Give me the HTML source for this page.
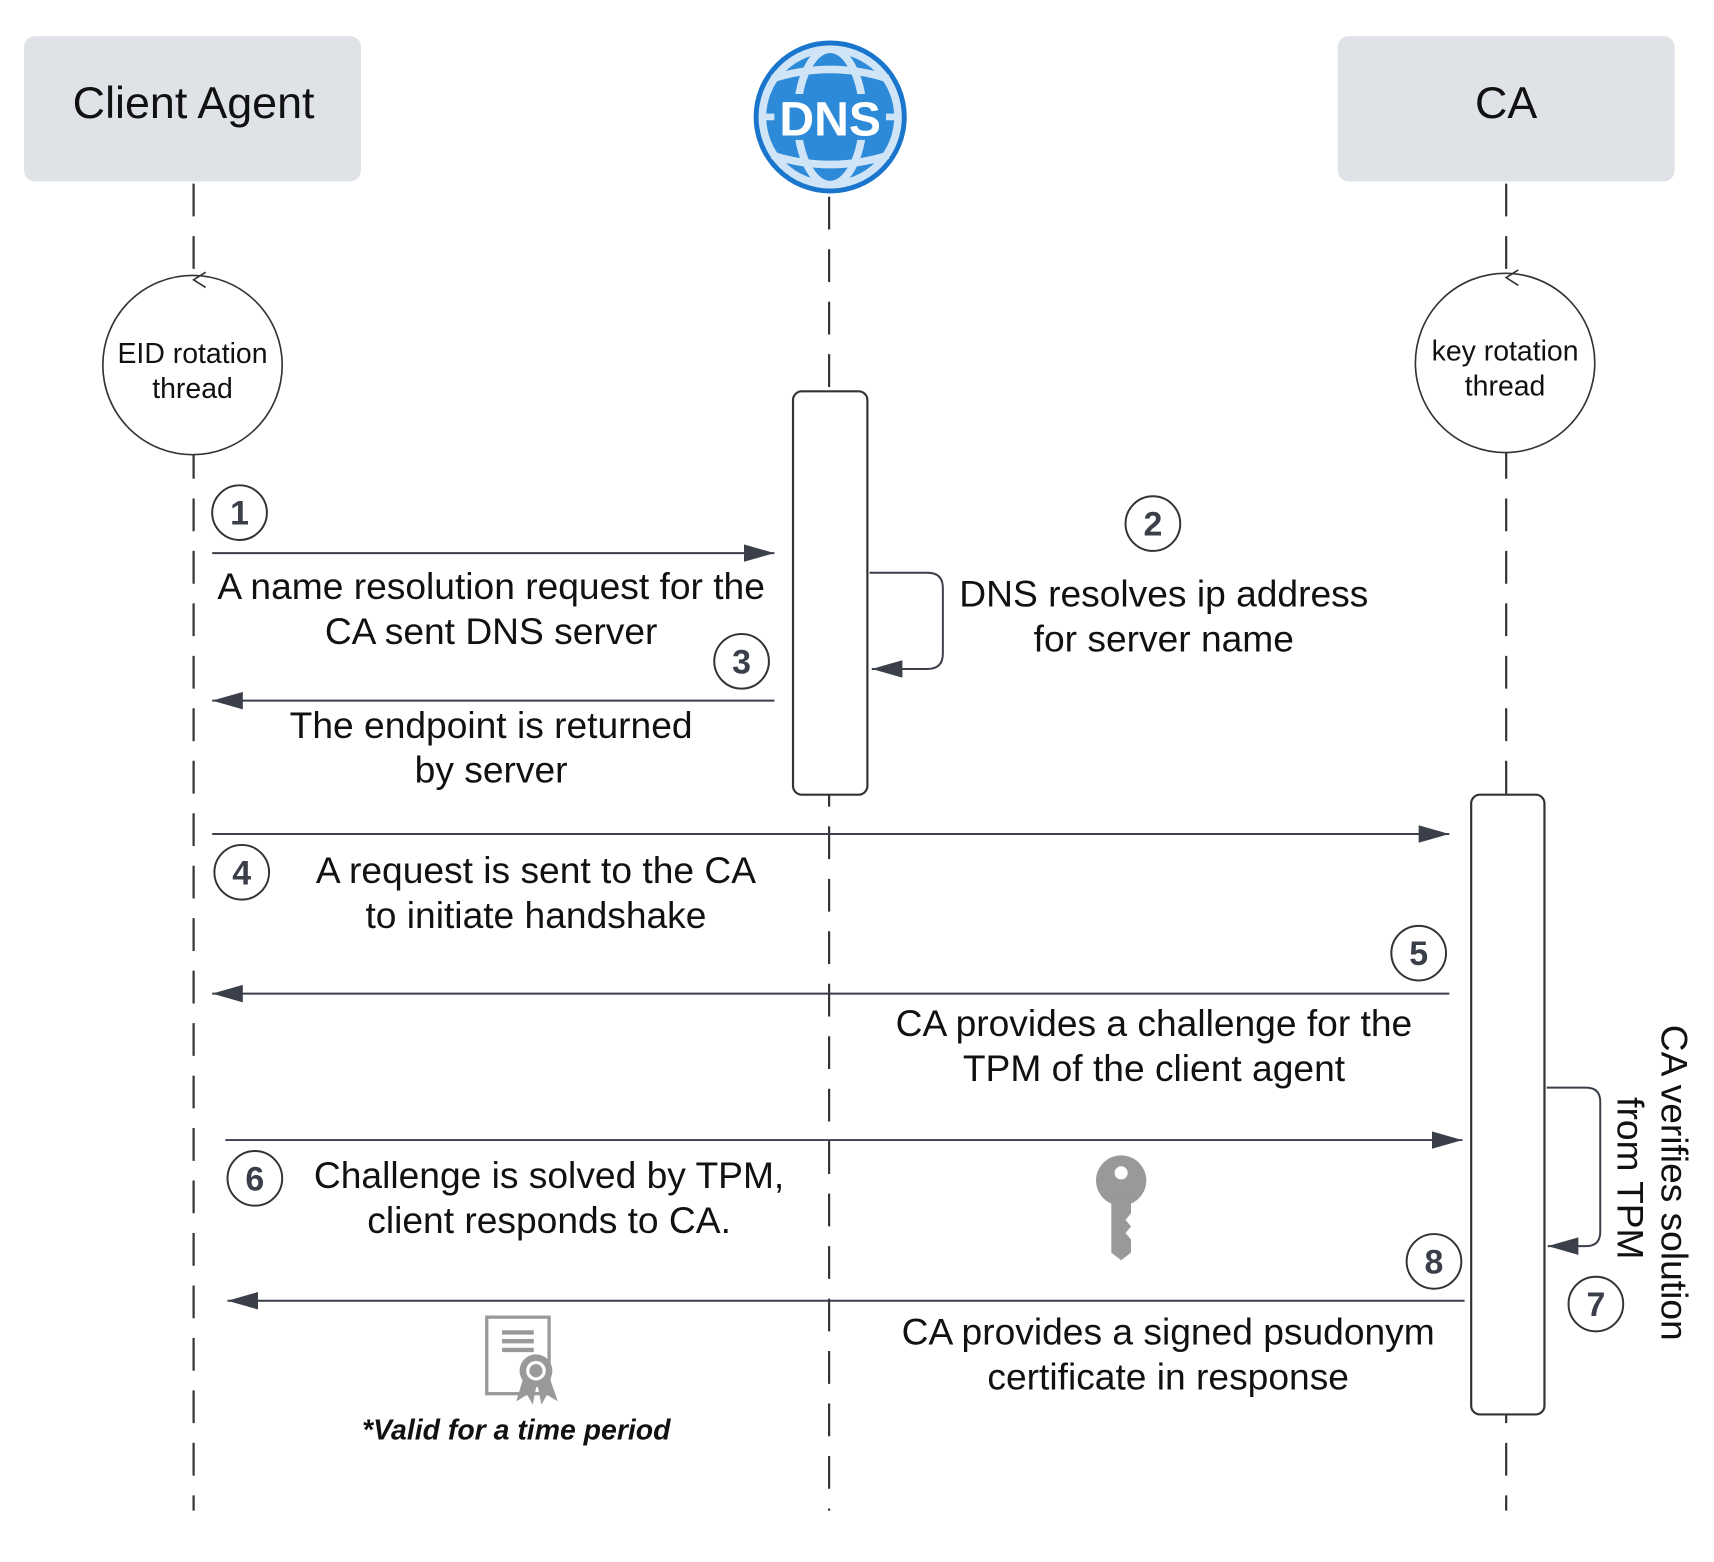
<!DOCTYPE html>
<html><head><meta charset="utf-8"><style>
html,body{margin:0;padding:0;background:#fff}
svg{display:block}
text{font-family:"Liberation Sans",sans-serif;fill:#111}
</style></head><body>
<svg width="1714" height="1562" viewBox="0 0 1567 1429" preserveAspectRatio="none" xmlns="http://www.w3.org/2000/svg">
<defs>
<marker id="ah" markerWidth="30" markerHeight="16" refX="28" refY="8" orient="auto" markerUnits="userSpaceOnUse">
<path d="M0,0 L28,8 L0,16 Z" fill="#3a3f4a"/></marker>
</defs>
<rect width="1567" height="1429" fill="#fff"/>
<g stroke="#333" stroke-width="2" stroke-dasharray="30,18" fill="none">
<line x1="177" y1="168" x2="177" y2="1382"/>
<line x1="758" y1="180" x2="758" y2="1382"/>
<line x1="1377" y1="168" x2="1377" y2="1382"/>
</g>
<rect x="22" y="33" width="308" height="133" rx="10" fill="#dfe2e7"/>
<text x="177" y="108" font-size="41" text-anchor="middle">Client Agent</text>
<rect x="1223" y="33" width="308" height="133" rx="10" fill="#dfe2e7"/>
<text x="1377" y="108" font-size="41" text-anchor="middle">CA</text>
<circle cx="759" cy="107" r="70" fill="#1976cc"/>
<circle cx="759" cy="107" r="62" fill="#2d8ad8" stroke="#cfe4f6" stroke-width="7"/>
<ellipse cx="759" cy="107" rx="30" ry="62" fill="none" stroke="#cfe4f6" stroke-width="7"/>
<path d="M706,72 Q759,55 812,72 M706,142 Q759,159 812,142" stroke="#cfe4f6" stroke-width="7" fill="none"/>
<line x1="697" y1="107" x2="821" y2="107" stroke="#cfe4f6" stroke-width="6"/>
<rect x="708" y="86" width="102" height="42" fill="#2d8ad8"/>
<text x="759" y="124" font-size="44" font-weight="bold" text-anchor="middle" style="fill:#fff">DNS</text>
<circle cx="176" cy="334" r="82" fill="#fff" stroke="#333" stroke-width="1.5"/>
<path d="M188,249 L177,256 L188,263" fill="none" stroke="#333" stroke-width="1.5"/>
<text x="176" y="332" font-size="26" text-anchor="middle">EID rotation</text>
<text x="176" y="364" font-size="26" text-anchor="middle">thread</text>
<circle cx="1376" cy="332" r="82" fill="#fff" stroke="#333" stroke-width="1.5"/>
<path d="M1388,247 L1377,254 L1388,261" fill="none" stroke="#333" stroke-width="1.5"/>
<text x="1376" y="330" font-size="26" text-anchor="middle">key rotation</text>
<text x="1376" y="362" font-size="26" text-anchor="middle">thread</text>
<rect x="725" y="358" width="68" height="369" rx="8" fill="#fff" stroke="#333" stroke-width="2"/>
<rect x="1345" y="727" width="67" height="567" rx="8" fill="#fff" stroke="#333" stroke-width="2"/>
<g stroke="#3a3f4a" stroke-width="1.8" fill="none">
<line x1="194" y1="506" x2="708" y2="506" marker-end="url(#ah)"/>
<line x1="708" y1="641" x2="194" y2="641" marker-end="url(#ah)"/>
<path d="M795,524 H848 Q862,524 862,538 V598 Q862,612 848,612 H797" marker-end="url(#ah)"/>
<line x1="194" y1="763" x2="1325" y2="763" marker-end="url(#ah)"/>
<line x1="1325" y1="909" x2="194" y2="909" marker-end="url(#ah)"/>
<line x1="206" y1="1043" x2="1337" y2="1043" marker-end="url(#ah)"/>
<path d="M1414,995 H1450 Q1463,995 1463,1008 V1127 Q1463,1140 1450,1140 H1415" marker-end="url(#ah)"/>
<line x1="1339" y1="1190" x2="208" y2="1190" marker-end="url(#ah)"/>
</g>
<g stroke="#333" stroke-width="1.8" fill="#fff">
<circle cx="219" cy="469" r="25"/><circle cx="1054" cy="479" r="25"/>
<circle cx="678" cy="605" r="25"/><circle cx="221" cy="798" r="25"/>
<circle cx="1297" cy="872" r="25"/><circle cx="233" cy="1078" r="25"/>
<circle cx="1459" cy="1193" r="25"/><circle cx="1311" cy="1154" r="25"/>
</g>
<g font-size="31" font-weight="bold" text-anchor="middle">
<text x="219" y="480" style="fill:#3a3f4a">1</text><text x="1054" y="490" style="fill:#3a3f4a">2</text>
<text x="678" y="616" style="fill:#3a3f4a">3</text><text x="221" y="809" style="fill:#3a3f4a">4</text>
<text x="1297" y="883" style="fill:#3a3f4a">5</text><text x="233" y="1089" style="fill:#3a3f4a">6</text>
<text x="1459" y="1204" style="fill:#3a3f4a">7</text><text x="1311" y="1165" style="fill:#3a3f4a">8</text>
</g>
<g font-size="34" text-anchor="middle">
<text x="449" y="548">A name resolution request for the</text>
<text x="449" y="589">CA sent DNS server</text>
<text x="1064" y="555">DNS resolves ip address</text>
<text x="1064" y="596">for server name</text>
<text x="449" y="675">The endpoint is returned</text>
<text x="449" y="716">by server</text>
<text x="490" y="808">A request is sent to the CA</text>
<text x="490" y="849">to initiate handshake</text>
<text x="1055" y="948">CA provides a challenge for the</text>
<text x="1055" y="989">TPM of the client agent</text>
<text x="502" y="1087">Challenge is solved by TPM,</text>
<text x="502" y="1128">client responds to CA.</text>
<text x="1068" y="1230">CA provides a signed psudonym</text>
<text x="1068" y="1271">certificate in response</text>
</g>
<g font-size="34" text-anchor="middle">
<text transform="translate(1519,1082) rotate(90)">CA verifies solution</text>
<text transform="translate(1479,1078) rotate(90)">from TPM</text>
</g>
<text x="472" y="1317" font-size="26" font-weight="bold" font-style="italic" text-anchor="middle">*Valid for a time period</text>
<g fill="#999">
<circle cx="1025" cy="1080" r="23"/>
<path d="M1016,1095 H1034 V1110 L1029,1116 L1034,1122 L1029,1128 L1034,1134 V1146 L1025,1153 L1016,1146 Z"/>
</g>
<circle cx="1025" cy="1073" r="6" fill="#fff"/>
<rect x="445" y="1205" width="57" height="70" fill="#fff" stroke="#999" stroke-width="3"/>
<g stroke="#999" stroke-width="4"><line x1="459" y1="1219" x2="488" y2="1219"/><line x1="459" y1="1227" x2="488" y2="1227"/><line x1="459" y1="1235" x2="488" y2="1235"/></g>
<path d="M478,1262 L472,1282 L482,1276 L487,1285 L491,1265 L495,1285 L500,1276 L510,1282 L503,1262 Z" fill="#999"/>
<circle cx="490" cy="1254" r="15" fill="#999"/>
<circle cx="490" cy="1254" r="9" fill="#fff"/>
<circle cx="490" cy="1254" r="6" fill="#999"/>
</svg>
</body></html>
